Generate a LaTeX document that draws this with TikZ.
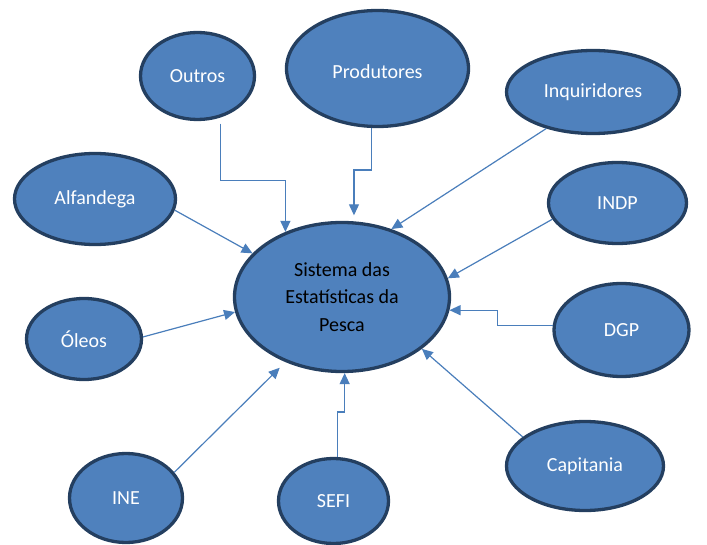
\documentclass[tikz,border=0pt]{standalone}
\usepackage{fontspec}
\setmainfont{Carlito}
\usetikzlibrary{arrows.meta,shapes.geometric}
\definecolor{caixaAzul}{RGB}{79,129,189}
\definecolor{bordaAzul}{RGB}{36,63,96}
\definecolor{setaAzul}{RGB}{74,126,187}

\begin{document}
\begin{tikzpicture}[x=1pt, y=-1pt,
    orgao/.style={ellipse, draw=bordaAzul, fill=caixaAzul, line width=3.3pt, inner sep=0pt, text=white, font=\fontsize{20}{27.5}\selectfont},
    seta/.style={draw=setaAzul, line width=1.2pt, -{Triangle[length=11pt,width=10pt]}}]
    \useasboundingbox (0,0) rectangle (707,545);
    % Centre
    \node[orgao, text=black, align=center, minimum width=215, minimum height=149] (sep) at (342,297) {Sistema das\\Estatísticas da\\Pesca};
    % Sources around it
    \node[orgao, minimum width=114, minimum height=87] (outros) at (197.5,76) {Outros};
    \node[orgao, minimum width=182, minimum height=116, text height=21pt] (prod) at (377.5,68.5) {Produtores};
    \node[orgao, minimum width=173, minimum height=83] (inq) at (593,92) {Inquiridores};
    \node[orgao, minimum width=161, minimum height=91] (alf) at (95,199) {Alfandega};
    \node[orgao, minimum width=138, minimum height=81] (indp) at (617.5,203) {INDP};
    \node[orgao, minimum width=115, minimum height=81] (oleos) at (84,339) {Óleos};
    \node[orgao, minimum width=135, minimum height=93] (dgp) at (621.5,330) {DGP};
    \node[orgao, minimum width=157, minimum height=89] (cap) at (585,466) {Capitania};
    \node[orgao, minimum width=113, minimum height=89] (ine) at (126,498) {INE};
    \node[orgao, minimum width=110, minimum height=85] (sefi) at (333.5,501) {SEFI};
    % Arrows into the centre
    \draw[seta, shorten <=6pt] (outros.-61) -- ++(0,63) -| (sep.131);
    \draw[seta, shorten >=6pt] (prod.-96) -- ++(0,42) -| (sep.81);
    \draw[seta] (inq.218) -- (sep.54);
    \draw[seta] (alf.-8) -- (sep.154);
    \draw[seta] (indp.194) -- (sep.10);
    \draw[seta] (oleos.2) -- (sep.188);
    \draw[seta] (dgp.176) -- ++(-55,0) |- (sep.-7);
    \draw[seta] (cap.155) -- (sep.-33);
    \draw[seta] (sefi.85) -- ++(0,-45) -| (sep.-88);
    \draw[seta, shorten >=8pt] (ine.28) -- (sep.229);
\end{tikzpicture}
\end{document}
